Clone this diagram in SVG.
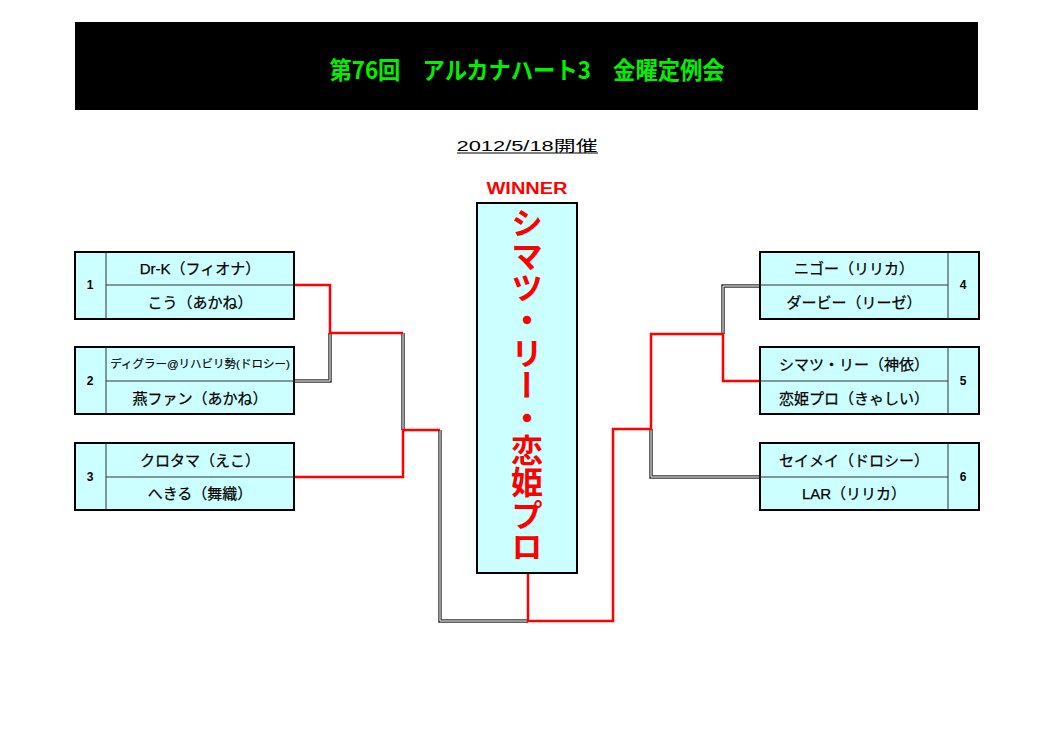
<svg xmlns="http://www.w3.org/2000/svg" width="1053" height="744" viewBox="0 0 1053 744">
<style>
.box{fill:#CCFFFF;stroke:#000;stroke-width:2}
.div{stroke:#333;stroke-width:1;fill:none}
.nm{font-family:"Liberation Sans","Noto Sans CJK JP",sans-serif;font-size:15px;fill:#000;text-anchor:middle;dominant-baseline:central;stroke:#000;stroke-width:0.25}
.sm{font-size:11.5px;stroke-width:0.15}
.num{font-family:"Liberation Sans","Noto Sans CJK JP",sans-serif;font-size:12px;font-weight:bold;fill:#000;text-anchor:middle;dominant-baseline:central}
.red{fill:none;stroke:#FF0000;stroke-width:2.5}
.dblo{fill:none;stroke:#333;stroke-width:3.5}
.dbli{fill:none;stroke:#fff;stroke-width:1}
</style>
<rect width="1053" height="744" fill="#fff"/>
<g id="title">
<rect x="75" y="22" width="903" height="88" fill="#000"/>
<text x="527" y="68" font-family="'Noto Sans CJK JP',sans-serif" font-size="24" font-weight="bold" fill="#00F000" text-anchor="middle" dominant-baseline="central" textLength="395" lengthAdjust="spacingAndGlyphs">第76回　アルカナハート3　金曜定例会</text>
</g>
<g id="date">
<text x="527" y="145" font-family="'Liberation Sans','Noto Sans CJK JP',sans-serif" font-size="15" fill="#000" text-anchor="middle" dominant-baseline="central" textLength="141" lengthAdjust="spacingAndGlyphs">2012/5/18開催</text>
<line x1="457" y1="153" x2="598" y2="153" stroke="#000" stroke-width="1"/>
</g>
<g id="connectors">
<path class="dblo" d="M294,381 H330 V333"/>
<path class="dbli" d="M294,381 H330 V333"/>
<path class="dblo" d="M403,333 V430"/>
<path class="dbli" d="M403,333 V430"/>
<path class="dblo" d="M440,430 V621 H528"/>
<path class="dbli" d="M440,430 V621 H528"/>
<path class="dblo" d="M651,429 V477 H760"/>
<path class="dbli" d="M651,429 V477 H760"/>
<path class="dblo" d="M723,334 V286 H760"/>
<path class="dbli" d="M723,334 V286 H760"/>
<path class="red" d="M294,285 H330 V333 H403"/>
<path class="red" d="M294,477 H403 V430 H440"/>
<path class="red" d="M528,573 V621 H613 V429 H651 V334 H723 V381 H760"/>
</g>
<g id="winner">
<text x="527" y="188" font-family="'Liberation Sans',sans-serif" font-size="16" font-weight="bold" fill="#FF0000" text-anchor="middle" dominant-baseline="central" textLength="81" lengthAdjust="spacingAndGlyphs">WINNER</text>
<rect x="477" y="203" width="100" height="370" class="box"/>
<text x="527" y="207" writing-mode="vertical-rl" font-family="'Noto Sans CJK JP',sans-serif" font-size="32" font-weight="bold" fill="#FF0000" textLength="356" lengthAdjust="spacing">シマツ・リー・恋姫プロ</text>
</g>
<g id="entry1">
<rect x="75" y="252" width="219" height="67" class="box"/>
<path class="div" d="M106,252 V319 M106,285 H294"/>
<text class="num" x="90" y="285">1</text>
<text class="nm" x="200" y="268">Dr-K（フィオナ）</text>
<text class="nm" x="200" y="302">こう（あかね）</text>
</g>
<g id="entry2">
<rect x="75" y="347" width="219" height="67" class="box"/>
<path class="div" d="M106,347 V414 M106,381 H294"/>
<text class="num" x="90" y="381">2</text>
<text class="nm sm" x="200" y="364">ディグラー@リハビリ勢(ドロシー)</text>
<text class="nm" x="200" y="398">燕ファン（あかね）</text>
</g>
<g id="entry3">
<rect x="75" y="443" width="219" height="67" class="box"/>
<path class="div" d="M106,443 V510 M106,477 H294"/>
<text class="num" x="90" y="477">3</text>
<text class="nm" x="200" y="460">クロタマ（えこ）</text>
<text class="nm" x="200" y="493">へきる（舞織）</text>
</g>
<g id="entry4">
<rect x="760" y="252" width="219" height="67" class="box"/>
<path class="div" d="M948,252 V319 M760,285 H948"/>
<text class="num" x="963" y="285">4</text>
<text class="nm" x="854" y="268">ニゴー（リリカ）</text>
<text class="nm" x="854" y="302">ダービー（リーゼ）</text>
</g>
<g id="entry5">
<rect x="760" y="347" width="219" height="67" class="box"/>
<path class="div" d="M948,347 V414 M760,381 H948"/>
<text class="num" x="963" y="381">5</text>
<text class="nm" x="854" y="364">シマツ・リー（神依）</text>
<text class="nm" x="854" y="398">恋姫プロ（きゃしい）</text>
</g>
<g id="entry6">
<rect x="760" y="443" width="219" height="67" class="box"/>
<path class="div" d="M948,443 V510 M760,477 H948"/>
<text class="num" x="963" y="477">6</text>
<text class="nm" x="854" y="460">セイメイ（ドロシー）</text>
<text class="nm" x="854" y="493">LAR（リリカ）</text>
</g>
</svg>
